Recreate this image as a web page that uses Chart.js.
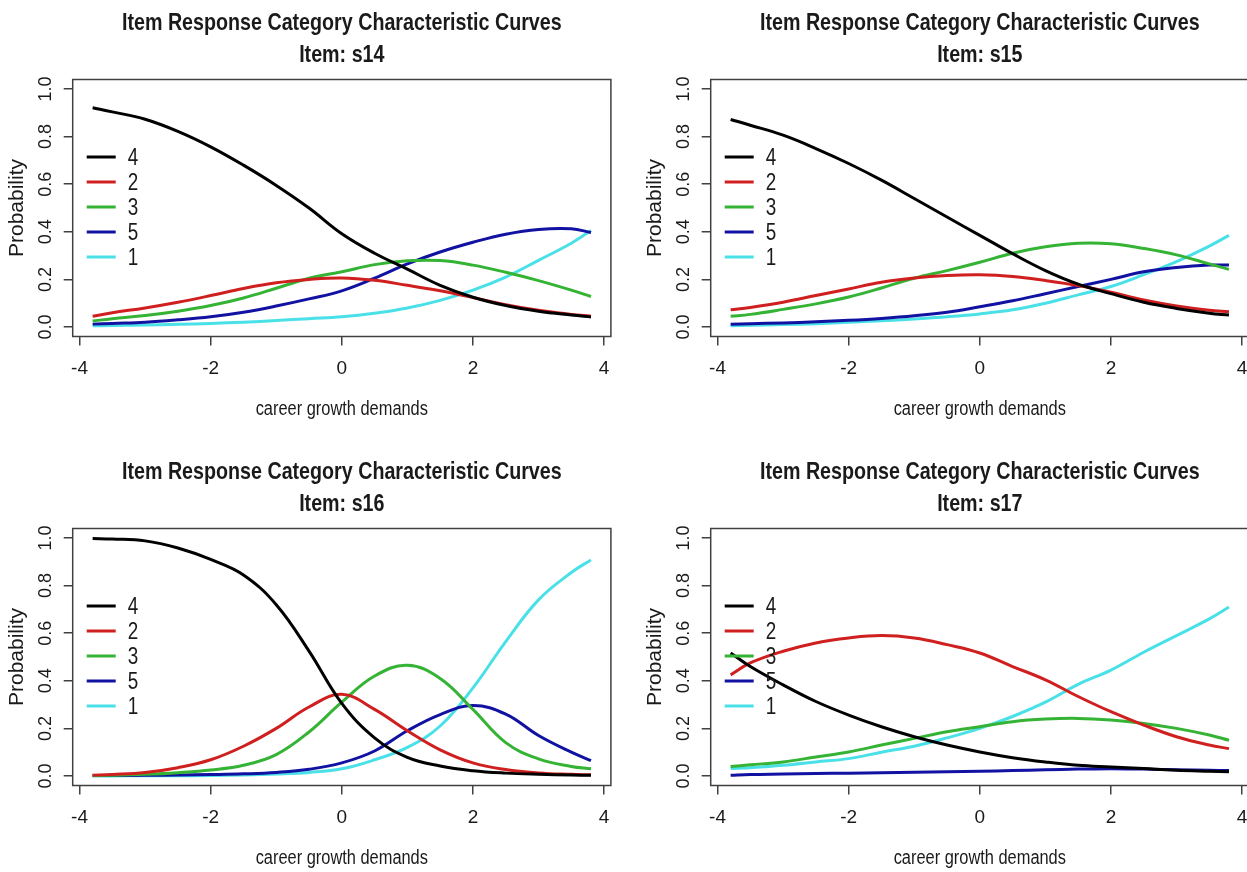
<!DOCTYPE html>
<html>
<head>
<meta charset="utf-8">
<script src="https://cdn.jsdelivr.net/npm/chart.js@4.4.1/dist/chart.umd.min.js"></script>
<style>
  html, body { margin: 0; padding: 0; background: #fff; overflow: hidden; }
  #wrap { position: relative; width: 1247px; height: 872px; overflow: hidden; }
  canvas { position: absolute; }
</style>
</head>
<body>
<div id="wrap">
  <canvas id="c14" width="638" height="449" style="left:0;top:0"></canvas>
  <canvas id="c15" width="638" height="449" style="left:638px;top:0"></canvas>
  <canvas id="c16" width="638" height="449" style="left:0;top:449px"></canvas>
  <canvas id="c17" width="638" height="449" style="left:638px;top:449px"></canvas>
</div>
<script>
// ability grid (x axis) and labels
const theta = [-3.8, -3.5, -3, -2.5, -2, -1.5, -1, -0.5, 0, 0.5, 1, 1.5, 2, 2.5, 3, 3.5, 3.8];
const categories = ['4', '2', '3', '5', '1'];
const lineColors = ['#000000', '#d01f1f', '#35b335', '#1212a2', '#4ae0e8'];
const xTicks = [-4, -2, 0, 2, 4];
const yTicks = [0, 0.2, 0.4, 0.6, 0.8, 1];
const mainTitle = 'Item Response Category Characteristic Curves';
const xTitle = 'career growth demands';
const yTitle = 'Probability';

// item s14
const s14_4 = [0.921, 0.904, 0.873, 0.822, 0.757, 0.68, 0.595, 0.5, 0.392, 0.31, 0.243, 0.175, 0.125, 0.09, 0.066, 0.05, 0.042];
const s14_2 = [0.045, 0.06, 0.08, 0.104, 0.132, 0.162, 0.186, 0.2, 0.206, 0.196, 0.175, 0.152, 0.124, 0.094, 0.07, 0.053, 0.045];
const s14_3 = [0.025, 0.035, 0.048, 0.066, 0.09, 0.122, 0.163, 0.205, 0.232, 0.262, 0.278, 0.279, 0.26, 0.23, 0.195, 0.155, 0.128];
const s14_5 = [0.012, 0.015, 0.02, 0.03, 0.043, 0.062, 0.088, 0.118, 0.152, 0.205, 0.265, 0.315, 0.356, 0.39, 0.41, 0.413, 0.397];
const s14_1 = [0.005, 0.006, 0.008, 0.011, 0.015, 0.02, 0.027, 0.035, 0.043, 0.058, 0.08, 0.112, 0.155, 0.21, 0.28, 0.352, 0.405];

// item s15
const s15_4 = [0.872, 0.848, 0.806, 0.75, 0.687, 0.617, 0.54, 0.462, 0.385, 0.308, 0.237, 0.18, 0.14, 0.104, 0.078, 0.058, 0.05];
const s15_2 = [0.072, 0.082, 0.104, 0.132, 0.16, 0.188, 0.206, 0.216, 0.219, 0.212, 0.195, 0.174, 0.146, 0.113, 0.088, 0.07, 0.064];
const s15_3 = [0.045, 0.053, 0.074, 0.097, 0.126, 0.164, 0.205, 0.237, 0.272, 0.31, 0.337, 0.352, 0.35, 0.33, 0.303, 0.265, 0.242];
const s15_5 = [0.012, 0.014, 0.017, 0.022, 0.028, 0.036, 0.047, 0.062, 0.085, 0.11, 0.14, 0.17, 0.2, 0.232, 0.25, 0.26, 0.26];
const s15_1 = [0.005, 0.007, 0.01, 0.014, 0.02, 0.026, 0.034, 0.043, 0.055, 0.072, 0.1, 0.135, 0.17, 0.22, 0.275, 0.34, 0.385];

// item s16
const s16_4 = [0.998, 0.996, 0.988, 0.958, 0.91, 0.845, 0.72, 0.525, 0.305, 0.16, 0.078, 0.042, 0.022, 0.012, 0.007, 0.004, 0.003];
const s16_2 = [0.003, 0.006, 0.015, 0.035, 0.068, 0.125, 0.2, 0.29, 0.343, 0.28, 0.19, 0.11, 0.055, 0.027, 0.013, 0.007, 0.005];
const s16_3 = [0.002, 0.003, 0.007, 0.014, 0.025, 0.045, 0.09, 0.185, 0.31, 0.42, 0.465, 0.41, 0.28, 0.14, 0.072, 0.04, 0.03];
const s16_5 = [0.002, 0.002, 0.003, 0.004, 0.006, 0.009, 0.015, 0.028, 0.055, 0.105, 0.19, 0.258, 0.296, 0.26, 0.17, 0.1, 0.065];
const s16_1 = [0.0, 0.0, 0.001, 0.001, 0.002, 0.004, 0.008, 0.015, 0.03, 0.068, 0.12, 0.21, 0.37, 0.565, 0.74, 0.855, 0.908];

// item s17
const s17_4 = [0.517, 0.46, 0.383, 0.313, 0.256, 0.207, 0.165, 0.13, 0.101, 0.077, 0.059, 0.045, 0.038, 0.031, 0.024, 0.02, 0.018];
const s17_2 = [0.425, 0.475, 0.524, 0.559, 0.58, 0.59, 0.58, 0.552, 0.517, 0.46, 0.404, 0.334, 0.27, 0.214, 0.165, 0.13, 0.115];
const s17_3 = [0.04, 0.047, 0.059, 0.08, 0.101, 0.13, 0.158, 0.186, 0.207, 0.228, 0.239, 0.242, 0.235, 0.221, 0.2, 0.172, 0.15];
const s17_5 = [0.003, 0.006, 0.008, 0.01, 0.012, 0.014, 0.016, 0.018, 0.02, 0.023, 0.026, 0.029, 0.03, 0.029, 0.026, 0.024, 0.023];
const s17_1 = [0.031, 0.035, 0.045, 0.059, 0.073, 0.1, 0.125, 0.16, 0.2, 0.25, 0.31, 0.385, 0.445, 0.52, 0.59, 0.66, 0.71];

const regular = "'Liberation Sans', Arial, sans-serif";
const squeeze = 0.82;   // the source image is horizontally compressed
const textColor = '#1a1a1a';
const axisColor = '#404040';

// plot frame like R's box()
const boxPlugin = {
  id: 'box',
  afterDatasetsDraw(chart) {
    const {ctx, chartArea: a} = chart;
    ctx.save();
    ctx.strokeStyle = axisColor;
    ctx.lineWidth = 1.5;
    ctx.strokeRect(a.left, a.top, a.right - a.left, a.bottom - a.top);
    ctx.restore();
  }
};

// condensed horizontal text: main title and x-axis title
const rText = {
  id: 'rText',
  afterDraw(chart, args, opts) {
    const {ctx, chartArea: a} = chart;
    const cx = (a.left + a.right) / 2;
    ctx.save();
    ctx.fillStyle = textColor;
    ctx.textAlign = 'center';
    ctx.textBaseline = 'middle';
    ctx.font = 'bold 24px ' + regular;
    opts.lines.forEach((line, i) => {
      ctx.fillText(line, cx, a.top - 56.1 + i * 31.6, ctx.measureText(line).width * squeeze);
    });
    ctx.font = '20px ' + regular;
    ctx.fillText(opts.xLabel, cx, a.bottom + 72.5, ctx.measureText(opts.xLabel).width * squeeze);
    ctx.restore();
  }
};

// legend("left", bty = "n")
const curveLegend = {
  id: 'curveLegend',
  afterDatasetsDraw(chart) {
    const {ctx, chartArea: a} = chart;
    const midY = (a.top + a.bottom) / 2;
    ctx.save();
    chart.data.datasets.forEach((ds, i) => {
      const y = midY + (i - 2) * 25 - 1;
      ctx.strokeStyle = ds.borderColor;
      ctx.lineWidth = 3;
      ctx.beginPath();
      ctx.moveTo(a.left + 14, y);
      ctx.lineTo(a.left + 43, y);
      ctx.stroke();
      ctx.fillStyle = textColor;
      ctx.font = '23px ' + regular;
      ctx.textBaseline = 'middle';
      ctx.fillText(ds.label, a.left + 55, y + 2, ctx.measureText(ds.label).width * squeeze);
    });
    ctx.restore();
  }
};

function makeChart(id, item, series) {
  new Chart(document.getElementById(id), {
    type: 'line',
    data: {
      datasets: series.map((vals, i) => ({
        label: categories[i],
        data: theta.map((x, j) => ({x: x, y: vals[j]})),
        borderColor: lineColors[i],
        borderWidth: 3,
        pointRadius: 0,
        tension: 0.4,
        fill: false
      }))
    },
    options: {
      responsive: false,
      animation: false,
      events: [],
      layout: {padding: {left: 0, right: 27.1, top: 79.5, bottom: 0}},
      plugins: {
        legend: {display: false},
        tooltip: {enabled: false},
        title: {display: false},
        rText: {lines: [mainTitle, 'Item: ' + item], xLabel: xTitle}
      },
      scales: {
        x: {
          type: 'linear',
          min: -4.104,
          max: 4.104,
          afterBuildTicks: s => { s.ticks = xTicks.map(v => ({value: v})); },
          afterFit: s => { s.height = 112.5; },
          border: {display: false},
          grid: {drawOnChartArea: false, drawTicks: true, tickLength: 9, color: axisColor, lineWidth: 1.5},
          ticks: {color: textColor, font: {family: regular, size: 19}, padding: 12, maxRotation: 0,
                  callback: v => String(v)}
        },
        y: {
          min: -0.04,
          max: 1.04,
          afterBuildTicks: s => { s.ticks = yTicks.map(v => ({value: v})); },
          afterFit: s => { s.width = 72.7; },
          border: {display: false},
          grid: {drawOnChartArea: false, drawTicks: true, tickLength: 9, color: axisColor, lineWidth: 1.5},
          ticks: {color: textColor, font: {family: regular, size: 18}, padding: 5, minRotation: 90, maxRotation: 90,
                  crossAlign: 'center', callback: v => v.toFixed(1)},
          title: {display: true, text: yTitle, color: textColor,
                  font: {family: regular, size: 21}, padding: {top: 4.4, bottom: 0}}
        }
      }
    },
    plugins: [boxPlugin, curveLegend, rText]
  });
}

makeChart('c14', 's14', [s14_4, s14_2, s14_3, s14_5, s14_1]);
makeChart('c15', 's15', [s15_4, s15_2, s15_3, s15_5, s15_1]);
makeChart('c16', 's16', [s16_4, s16_2, s16_3, s16_5, s16_1]);
makeChart('c17', 's17', [s17_4, s17_2, s17_3, s17_5, s17_1]);
</script>
</body>
</html>
